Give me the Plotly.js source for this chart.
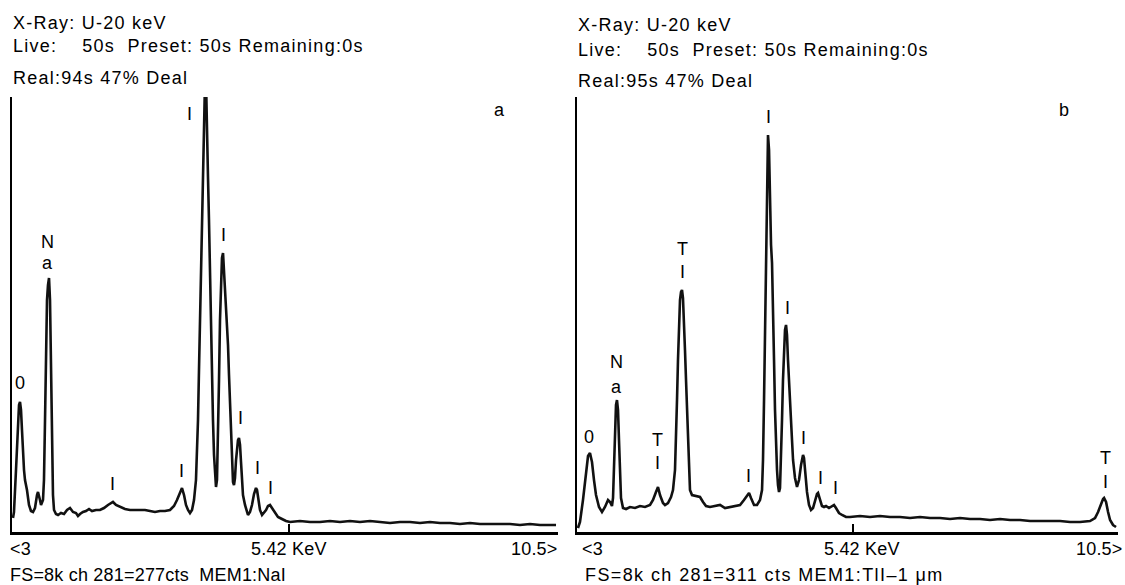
<!DOCTYPE html>
<html>
<head>
<meta charset="utf-8">
<script src="https://cdn.plot.ly/plotly-3.0.1.min.js"></script>
<style>
html,body{margin:0;padding:0;background:#fff;}
#chart{width:1125px;height:585px;}
.annotation-text{letter-spacing:0.2px;}
</style>
</head>
<body>
<div id="chart"></div>
<script>
// ---------- DATA (energy in keV, intensity in counts, full scale 8k) ----------
const leftKeV = [0.019,0.038,0.077,0.115,0.135,0.154,0.173,0.192,0.212,0.231,
  0.250,0.288,0.327,0.365,0.404,0.442,0.481,0.500,0.538,0.558,
  0.596,0.615,0.635,0.654,0.673,0.692,0.712,0.731,0.750,0.769,
  0.788,0.808,0.846,0.885,0.942,1.000,1.058,1.115,1.173,1.231,
  1.269,1.308,1.365,1.423,1.481,1.538,1.615,1.692,1.769,1.846,
  1.904,1.942,2.000,2.077,2.173,2.269,2.365,2.462,2.558,2.654,
  2.750,2.846,2.942,3.038,3.115,3.173,3.231,3.269,3.308,3.346,
  3.385,3.423,3.462,3.500,3.538,3.558,3.577,3.596,3.615,3.635,
  3.654,3.673,3.692,3.712,3.731,3.750,3.769,3.788,3.808,3.827,
  3.846,3.865,3.885,3.904,3.923,3.942,3.962,3.981,4.000,4.019,
  4.038,4.058,4.077,4.096,4.115,4.135,4.154,4.173,4.192,4.212,
  4.231,4.250,4.269,4.288,4.308,4.327,4.346,4.365,4.385,4.404,
  4.423,4.442,4.481,4.519,4.538,4.577,4.615,4.654,4.692,4.712,
  4.731,4.769,4.808,4.846,4.885,4.923,4.962,5.000,5.058,5.115,
  5.192,5.269,5.346,5.538,5.731,5.923,6.115,6.308,6.500,6.692,
  6.885,7.077,7.269,7.462,7.654,7.846,8.038,8.231,8.423,8.615,
  8.808,9.000,9.192,9.385,9.577,9.769,9.962,10.154,10.346,10.462];
const leftCounts = [257,368,1140,2060,2336,2391,2244,1876,1416,1140,
  956,772,497,386,368,441,680,736,588,497,
  588,956,2060,3347,4266,4542,4671,4266,2795,1508,
  680,405,331,313,349,331,405,441,368,349,
  294,331,368,386,423,386,405,405,441,497,
  533,552,497,460,423,405,405,405,405,386,
  368,386,386,405,478,588,736,809,680,497,
  405,349,405,588,956,1416,2060,2979,3899,5002,
  6105,7025,7761,8300,8300,7025,6528,5738,4634,3715,
  2979,2060,1416,993,828,956,1692,2795,3899,4634,
  5039,5131,4818,4266,3991,3844,3439,2887,2336,1692,
  1140,920,864,993,1324,1600,1692,1729,1600,1287,
  956,680,497,368,313,368,497,699,809,772,
  625,405,313,349,405,478,497,441,349,276,
  239,202,184,202,184,184,202,184,202,184,
  202,184,166,184,184,166,184,166,166,147,
  166,147,147,147,147,129,147,129,129,129];

const rightKeV = [0.019,0.058,0.116,0.175,0.214,0.252,0.291,0.330,0.369,0.427,
  0.485,0.543,0.602,0.641,0.679,0.699,0.718,0.738,0.757,0.776,
  0.796,0.815,0.835,0.854,0.893,0.951,1.029,1.126,1.223,1.320,
  1.417,1.475,1.533,1.572,1.611,1.669,1.708,1.766,1.825,1.863,
  1.902,1.922,1.941,1.960,1.980,1.999,2.019,2.038,2.057,2.077,
  2.096,2.116,2.135,2.155,2.174,2.193,2.232,2.310,2.387,2.446,
  2.504,2.582,2.679,2.776,2.873,2.970,3.067,3.164,3.241,3.300,
  3.339,3.377,3.436,3.494,3.552,3.591,3.610,3.630,3.649,3.668,
  3.688,3.707,3.727,3.746,3.766,3.785,3.804,3.824,3.843,3.863,
  3.882,3.901,3.921,3.940,3.960,3.979,3.998,4.018,4.037,4.057,
  4.076,4.095,4.115,4.134,4.154,4.173,4.193,4.231,4.270,4.309,
  4.348,4.387,4.406,4.425,4.464,4.503,4.542,4.581,4.620,4.658,
  4.678,4.717,4.755,4.794,4.833,4.891,4.950,4.988,5.027,5.085,
  5.144,5.221,5.299,5.493,5.687,5.881,6.075,6.269,6.464,6.658,
  6.852,7.046,7.240,7.434,7.628,7.822,8.016,8.211,8.405,8.599,
  8.793,8.987,9.181,9.375,9.569,9.763,9.957,10.054,10.113,10.171,
  10.210,10.229,10.268,10.307,10.346,10.404,10.462];
const rightCounts = [74,184,588,1140,1398,1453,1287,956,680,460,
  368,460,588,552,478,625,1140,1876,2336,2427,
  2244,1692,1048,625,441,423,460,441,478,460,
  497,588,736,828,680,533,497,533,644,772,
  1140,1692,2427,3163,3899,4266,4414,4450,4303,3899,
  3347,2795,2244,1692,1140,772,680,662,644,552,
  478,460,478,497,441,460,478,497,588,680,
  717,625,497,497,588,772,1324,2427,3715,5370,
  6657,7301,7025,6105,5278,4947,4266,3163,2244,1600,
  1140,864,736,809,1324,2060,2795,3347,3715,3807,
  3623,3163,2703,2336,2060,1692,1324,993,828,956,
  1232,1416,1361,1140,736,497,405,441,588,699,
  717,588,478,460,478,441,478,497,441,349,
  313,276,276,294,276,294,276,276,257,276,
  257,257,239,257,239,239,221,239,221,221,
  202,202,202,202,184,184,202,257,368,533,
  607,625,552,368,221,129,92];

// peak identification labels (text, energy keV, counts)
const labelTextA = ['0','N','a','I','I','I','I','I','I','I'];
const labelKeVA  = [0.154,0.692,0.692,1.923,3.269,3.404,4.058,4.385,4.712,4.962];
const labelCtsA  = [2740,5333,4947,883,1122,7687,5462,2096,1177,809];

const labelTextB = ['0','N','a','T','I','T','I','I','I','I','I','I','I','T','I'];
const labelKeVB  = [0.233,0.757,0.757,1.553,1.553,2.038,2.038,3.319,3.707,4.076,4.387,4.717,5.008,10.248,10.248];
const labelCtsB  = [1747,3126,2667,1692,1269,5204,4781,1030,7632,4119,1729,993,809,1361,920];

const headerA = ['X-Ray: U-20 keV','Live:\u00a0\u00a0\u00a0 50s\u00a0 Preset: 50s Remaining:0s','Real:94s 47% Deal'];
const headerB = ['X-Ray: U-20 keV','Live:\u00a0\u00a0\u00a0 50s\u00a0 Preset: 50s Remaining:0s','Real:95s 47% Deal'];
const axisLabels = ['<3','5.42 KeV','10.5>'];
const footerA = 'FS=8k ch 281=277cts\u00a0 MEM1:NaI';
const footerB = 'FS=8k ch 281=311 cts MEM1:TlI\u20131 \u03bcm';
const panelTags = ['a','b'];

// ---------- LAYOUT ----------
const W = 1125, H = 585, T = 97, B = 532;
const px = v => v / W;
const py = v => (B - v) / (B - T);
const FONT = 'Liberation Sans, Arial, sans-serif';
const wide = (t, s) => '<span style="letter-spacing:' + s + 'px">' + t + '</span>';

const traces = [
  {x: leftKeV, y: leftCounts, xaxis:'x', yaxis:'y', type:'scatter', mode:'lines',
   line:{color:'#111', width:2.6}, hoverinfo:'skip'},
  {x: rightKeV, y: rightCounts, xaxis:'x2', yaxis:'y2', type:'scatter', mode:'lines',
   line:{color:'#111', width:2.6}, hoverinfo:'skip'}
];

const ann = [];
function txt(text, x, y, xa, opts) {
  ann.push(Object.assign({text, x, y, xref:'paper', yref:'paper', xanchor:xa, yanchor:'middle',
    showarrow:false, font:{family:FONT, size:18, color:'#000'}}, opts || {}));
}
// headers
const hy1 = [23, 46, 78], hy2 = [25, 50, 81];
headerA.forEach((t,i) => txt(wide(t, 1.25), px(11), py(hy1[i]), 'left'));
headerB.forEach((t,i) => txt(wide(t, 1.25), px(576), py(hy2[i]), 'left'));
// axis labels
txt(axisLabels[0], px(8), py(549), 'left');
txt(axisLabels[1], px(289), py(549), 'center');
txt(axisLabels[2], px(560), py(549), 'right');
txt(axisLabels[0], px(580), py(549), 'left');
txt(axisLabels[1], px(862), py(549), 'center');
txt(axisLabels[2], px(1125), py(549), 'right');
// footers
txt(footerA, px(8), py(575), 'left');
txt(wide(footerB, 1.4), px(583), py(575), 'left');
// panel tags
txt(panelTags[0], px(499), py(110), 'center');
txt(panelTags[1], px(1064), py(110), 'center');
// peak labels
labelTextA.forEach((t,i) => ann.push({text:t, x:labelKeVA[i], y:labelCtsA[i], xref:'x', yref:'y',
  showarrow:false, xanchor:'center', yanchor:'middle', font:{family:FONT, size:18, color:'#000'}}));
labelTextB.forEach((t,i) => ann.push({text:t, x:labelKeVB[i], y:labelCtsB[i], xref:'x2', yref:'y2',
  showarrow:false, xanchor:'center', yanchor:'middle', font:{family:FONT, size:18, color:'#000'}}));

const axX = (dom, tv) => ({domain:dom, range:[0,10.5], showgrid:false, zeroline:false,
  showline:true, linecolor:'#000', linewidth:2.5, ticks:'inside', ticklen:8, tickwidth:2,
  tickcolor:'#000', tickvals:tv, ticktext:tv.map(()=>''), showticklabels:false, fixedrange:true});
const axY = (anchor) => ({anchor, range:[0,8000], showgrid:false, zeroline:false,
  showline:true, linecolor:'#000', linewidth:2.5, ticks:'', showticklabels:false, fixedrange:true});

const layout = {
  width:W, height:H, margin:{l:0, r:0, t:T, b:H-B},
  paper_bgcolor:'#fff', plot_bgcolor:'#fff', showlegend:false,
  xaxis: Object.assign(axX([px(12), px(558)], [5.33]), {anchor:'y'}),
  yaxis: axY('x'),
  xaxis2: Object.assign(axX([px(577), px(1118)], [5.36, 10.5]), {anchor:'y2'}),
  yaxis2: axY('x2'),
  annotations: ann
};

Plotly.newPlot('chart', traces, layout, {staticPlot:true, displayModeBar:false});
</script>
</body>
</html>
